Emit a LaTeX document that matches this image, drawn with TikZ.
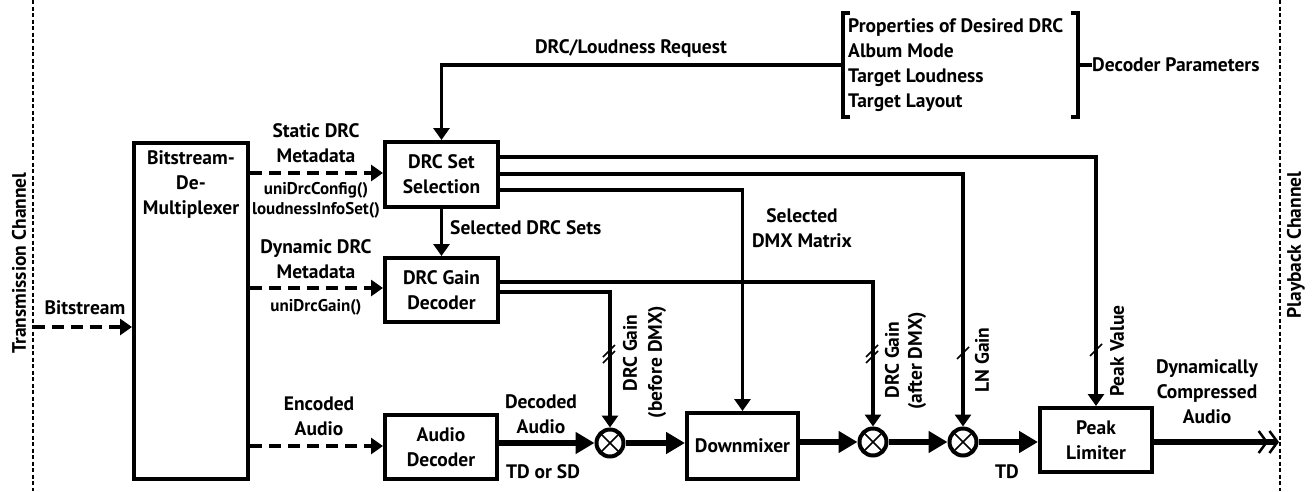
\documentclass[tikz,border=0pt]{standalone}
\usepackage{fontspec}
\setmainfont{PT Sans}
\usetikzlibrary{arrows.meta,calc}
\begin{document}
\begin{tikzpicture}[x=1pt,y=-1pt,
  font=\fontsize{19.5}{25}\selectfont\bfseries,
  box/.style={draw,line width=4pt,align=center,inner sep=0pt},
  txt/.style={align=center,inner sep=0pt},
  small/.style={font=\fontsize{17}{20}\selectfont\bfseries},
  ctrl/.style={line width=3.5pt},
  sig/.style={line width=5.5pt},
  dsh/.style={line width=4pt,dash pattern=on 12pt off 7pt},
  tipc/.style={-{Triangle[length=12pt,width=16pt]}},
  tips/.style={-{Triangle[length=19pt,width=21pt]}},
  mult/.style={draw,circle,line width=4pt,minimum size=27pt,inner sep=0pt,
    path picture={\draw[line width=1.6pt]
      (path picture bounding box.north west) -- (path picture bounding box.south east)
      (path picture bounding box.north east) -- (path picture bounding box.south west);}},
  chan/.style={line width=1.3pt,dash pattern=on 4pt off 2.5pt},
  slash/.style={line width=1.6pt}
]
\useasboundingbox (0,0) rectangle (1314,491);
% channel boundaries
\coordinate (tl) at (33,0); \coordinate (bl) at (33,491);
\coordinate (tr) at (1280,0); \coordinate (br) at (1280,491);
\draw[chan] (tl) -- (bl);
\draw[chan] (tr) -- (br);
\node[txt,rotate=90] (tch) at (19,263) {Transmission Channel};
\node[txt,rotate=90] (pch) at (1296,245) {Playback Channel};

% boxes
\node[box,minimum width=114pt,minimum height=336pt,
  label={[txt,anchor=north,yshift=-9pt]north:Bitstream-\\De-\\Multiplexer}] (demux) at (191,311) {};
\node[box,minimum width=113pt,minimum height=65pt] (dss) at (441.5,174.5) {DRC Set\\Selection};
\node[box,minimum width=113pt,minimum height=64pt] (dgd) at (441.5,290) {DRC Gain\\Decoder};
\node[box,minimum width=112pt,minimum height=64pt] (ad) at (441,447) {Audio\\Decoder};
\node[box,minimum width=111pt,minimum height=66pt] (dmx) at (742.5,446) {Downmixer};
\node[box,minimum width=112pt,minimum height=64pt] (pl) at (1096,440) {Peak\\Limiter};

% multipliers
\node[mult] (m1) at (610,443) {};
\node[mult] (m2) at (873,442) {};
\node[mult] (m3) at (963,442) {};

% decoder parameters bracket
\coordinate (bl1) at (843,13); \coordinate (bl2) at (843,117);
\coordinate (br1) at (1078,13); \coordinate (br2) at (1078,117);
\coordinate (req) at (843,65);
\draw[line width=3.5pt] ($(bl1)+(7,0)$) -- (bl1) -- (bl2) -- ($(bl2)+(7,0)$);
\draw[line width=3.5pt] ($(br1)+(-7,0)$) -- (br1) -- (br2) -- ($(br2)+(-7,0)$);
\node[txt,anchor=west,align=left] (params) at (848,65)
  {Properties of Desired DRC\\Album Mode\\Target Loudness\\Target Layout};
\node[txt,anchor=west] (decp) at (1092,65) {Decoder Parameters};
\draw[line width=3.5pt] (1078,65) -- (decp.west);

% DRC/Loudness request
\draw[ctrl,tipc] (req) -| (dss.north);
\node[txt] (reql) at (631,48) {DRC/Loudness Request};

% bitstream inputs
\coordinate (bsin) at (33,327);
\draw[dsh,tipc] (bsin) -- (demux.west |- bsin);
\node[txt] (bsl) at (85,308) {Bitstream};
\draw[dsh,tipc] (demux.east |- 0,173) -- (dss.west |- 0,173);
\node[txt] (sdm) at (316,143) {Static DRC\\Metadata};
\node[txt,small] (sdf) at (316,200) {uniDrcConfig()\\loudnessInfoSet()};
\draw[dsh,tipc] (demux.east |- 0,288) -- (dgd.west |- 0,288);
\node[txt] (ddm) at (316,259) {Dynamic DRC\\Metadata};
\node[txt,small] (ddf) at (316,307) {uniDrcGain()};
\draw[dsh,tipc] (demux.east |- 0,446) -- (ad.west |- 0,446);
\node[txt] (eal) at (319,416) {Encoded\\Audio};

% selected DRC sets
\draw[ctrl,tipc] (dss.south) -- (dgd.north);
\node[txt,anchor=west] (sdsl) at (450,228) {Selected DRC Sets};

% outputs of DRC Set Selection
\draw[ctrl,tipc] (dss.east |- 0,157) -| (pl.north);
\draw[ctrl,tipc] (dss.east |- 0,174) -| (m3.north);
\draw[ctrl,tipc] (dss.east |- 0,190) -| (dmx.north);
\node[txt] (sdmx) at (802,228) {Selected\\DMX Matrix};

% outputs of DRC Gain Decoder
\draw[ctrl,tipc] (dgd.east |- 0,282) -| (m2.north);
\draw[ctrl,tipc] (dgd.east |- 0,292) -| (m1.north);

% slashes
\draw[slash] (603,357) -- (615,345) (603,363) -- (615,351);
\draw[slash] (866,357) -- (878,345) (866,363) -- (878,351);
\draw[slash] (957,359) -- (969,347);
\draw[slash] (1090,356) -- (1102,344);

% rotated labels
\node[txt,rotate=90] (g1a) at (630,353) {DRC Gain};
\node[txt,rotate=90] (g1b) at (657,362) {(before DMX)};
\node[txt,rotate=90] (g2a) at (892,360) {DRC Gain};
\node[txt,rotate=90] (g2b) at (917,361) {(after DMX)};
\node[txt,rotate=90] (lng) at (982,360) {LN Gain};
\node[txt,rotate=90] (pkv) at (1117,351) {Peak Value};

% signal path
\draw[sig,tips] (ad.east |- m1) -- (m1);
\node[txt] (dal) at (541,414) {Decoded\\Audio};
\node[txt] (tdsd) at (543,472) {TD or SD};
\draw[sig,tips] (m1) -- (dmx.west |- m1);
\draw[sig,tips] (dmx.east |- m2) -- (m2);
\draw[sig,tips] (m2) -- (m3);
\draw[sig,tips] (m3) -- (pl.west |- m3);
\node[txt] (tdl) at (1007,472) {TD};
\coordinate (out) at (1279,442);
\draw[sig,-{Straight Barb[length=8pt,width=22pt,line width=2.5pt]Straight Barb[length=8pt,width=22pt,line width=2.5pt]}] (pl.east |- m3) -- (out);
\node[txt] (dca) at (1207,392) {Dynamically\\Compressed\\Audio};
\end{tikzpicture}
\end{document}
